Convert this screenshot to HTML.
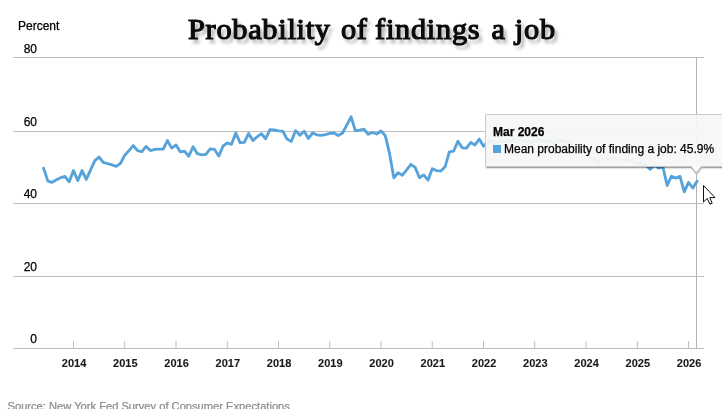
<!DOCTYPE html>
<html><head><meta charset="utf-8"><title>Probability of findings a job</title>
<style>
html,body{margin:0;padding:0;background:#fff;}
#c{position:relative;width:722px;height:409px;overflow:hidden;background:#fff;font-family:"Liberation Sans",Arial,sans-serif;color:#000;-webkit-text-stroke:0.25px currentColor;}
#c svg{position:absolute;left:0;top:0;}
.title{position:absolute;left:188.3px;top:11.5px;white-space:nowrap;font-family:"Liberation Serif",serif;font-weight:normal;font-size:29px;line-height:34px;color:#0b0b0b;-webkit-text-stroke:1.2px #0b0b0b;text-shadow:3px 3.5px 3.5px rgba(0,0,0,0.4);transform-origin:0 0;transform:scaleX(1.045);letter-spacing:0.7px;word-spacing:0.5px;}
.pct{position:absolute;left:18px;top:19px;font-size:12px;line-height:14px;}
.yl{position:absolute;left:14px;width:23px;text-align:right;font-size:12px;line-height:14px;}
.yr{position:absolute;top:357px;width:40px;text-align:center;font-size:11px;line-height:13px;font-weight:bold;color:#1a1a1a;-webkit-text-stroke:0.1px currentColor;}
.src{position:absolute;left:7.5px;top:399px;font-size:11.15px;line-height:14px;color:#8e8e8e;white-space:nowrap;}
.tip{position:absolute;left:485px;top:114px;width:250px;height:53px;box-sizing:border-box;border:1px solid #c9c9c9;border-radius:1px;background:rgba(247,247,247,0.94);box-shadow:1px 1px 0 rgba(0,0,0,0.28),1px 2px 1px rgba(0,0,0,0.12);}
.tip .h{position:absolute;left:7px;top:9.5px;font-size:12px;line-height:14px;font-weight:bold;white-space:nowrap;}
.tip .sq{position:absolute;left:7px;top:29.7px;width:8.2px;height:8.2px;background:#50a2e0;}
.tip .t{position:absolute;left:18px;top:27px;font-size:12px;line-height:14px;white-space:nowrap;}
</style></head><body>
<div id="c">
<svg width="722" height="409" viewBox="0 0 722 409">
<line x1="13" x2="704" y1="57.5" y2="57.5" stroke="#bebebe" stroke-width="1"/><line x1="13" x2="704" y1="131.5" y2="131.5" stroke="#bebebe" stroke-width="1"/><line x1="13" x2="704" y1="203.5" y2="203.5" stroke="#bebebe" stroke-width="1"/><line x1="13" x2="704" y1="276.5" y2="276.5" stroke="#bebebe" stroke-width="1"/><line x1="13" x2="704" y1="348.5" y2="348.5" stroke="#bebebe" stroke-width="1"/>
<line x1="73.50" x2="73.50" y1="341" y2="348.5" stroke="#bebebe" stroke-width="1"/><line x1="124.75" x2="124.75" y1="341" y2="348.5" stroke="#bebebe" stroke-width="1"/><line x1="176.00" x2="176.00" y1="341" y2="348.5" stroke="#bebebe" stroke-width="1"/><line x1="227.25" x2="227.25" y1="341" y2="348.5" stroke="#bebebe" stroke-width="1"/><line x1="278.50" x2="278.50" y1="341" y2="348.5" stroke="#bebebe" stroke-width="1"/><line x1="329.75" x2="329.75" y1="341" y2="348.5" stroke="#bebebe" stroke-width="1"/><line x1="381.00" x2="381.00" y1="341" y2="348.5" stroke="#bebebe" stroke-width="1"/><line x1="432.25" x2="432.25" y1="341" y2="348.5" stroke="#bebebe" stroke-width="1"/><line x1="483.50" x2="483.50" y1="341" y2="348.5" stroke="#bebebe" stroke-width="1"/><line x1="534.75" x2="534.75" y1="341" y2="348.5" stroke="#bebebe" stroke-width="1"/><line x1="586.00" x2="586.00" y1="341" y2="348.5" stroke="#bebebe" stroke-width="1"/><line x1="637.25" x2="637.25" y1="341" y2="348.5" stroke="#bebebe" stroke-width="1"/><line x1="688.50" x2="688.50" y1="341" y2="348.5" stroke="#bebebe" stroke-width="1"/>
<line x1="696.5" x2="696.5" y1="57" y2="349" stroke="#b4b4b4" stroke-width="1"/>
<polyline fill="none" stroke="#56a3db" stroke-width="2.85" stroke-linejoin="round" stroke-linecap="round" points="43.60,168.10 47.87,181.10 52.14,182.40 56.41,179.70 60.68,177.70 64.95,176.40 69.23,181.80 73.50,170.60 77.77,180.50 82.04,170.60 86.31,179.30 90.58,169.90 94.85,160.60 99.12,157.10 103.39,162.50 107.66,163.70 111.94,164.90 116.21,166.40 120.48,163.40 124.75,155.20 129.02,150.60 133.29,145.60 137.56,150.60 141.83,151.60 146.10,146.40 150.38,150.60 154.65,149.30 158.92,149.10 163.19,149.10 167.46,140.60 171.73,148.10 176.00,144.90 180.27,151.80 184.54,151.20 188.81,156.20 193.08,146.80 197.36,153.70 201.63,154.90 205.90,154.30 210.17,148.90 214.44,149.30 218.71,156.10 222.98,146.20 227.25,143.00 231.52,144.30 235.79,133.10 240.07,142.70 244.34,142.40 248.61,133.40 252.88,140.60 257.15,136.80 261.42,133.70 265.69,138.70 269.96,129.70 274.23,130.00 278.50,130.90 282.78,131.20 287.05,139.10 291.32,141.40 295.59,130.60 299.86,135.30 304.13,131.20 308.40,138.40 312.67,133.00 316.94,134.90 321.22,135.30 325.49,134.70 329.76,133.40 334.03,133.00 338.30,135.50 342.57,133.00 346.84,124.90 351.11,116.80 355.38,130.80 359.65,130.20 363.93,129.20 368.20,134.20 372.47,132.50 376.74,134.00 381.01,131.00 385.28,135.60 389.55,153.70 393.82,177.70 398.09,172.70 402.36,175.20 406.63,169.90 410.91,164.30 415.18,167.40 419.45,177.70 423.72,174.90 427.99,180.20 432.26,168.70 436.53,170.60 440.80,171.00 445.07,166.80 449.35,151.80 453.62,151.20 457.89,141.20 462.16,147.80 466.43,148.10 470.70,142.50 474.97,144.90 479.24,139.10 483.51,146.20 487.78,142.00 492.06,141.00 496.33,143.00 500.60,140.00 504.87,142.00 509.14,141.00 513.41,139.50 517.68,142.00 521.95,140.00 526.22,141.50 530.49,143.00 534.76,140.50 539.04,139.50 543.31,141.00 547.58,140.00 551.85,142.00 556.12,143.50 560.39,140.00 564.66,141.00 568.93,143.00 573.20,145.00 577.48,147.00 581.75,150.00 586.02,153.00 590.29,157.00 594.56,160.00 598.83,162.00 603.10,160.00 607.37,159.00 611.64,157.00 615.91,158.00 620.19,160.00 624.46,159.00 628.73,161.00 633.00,160.00 637.27,164.00 641.54,163.00 645.81,165.00 650.08,169.30 654.35,165.00 658.62,168.10 662.89,166.80 667.17,185.50 671.44,176.20 675.71,178.10 679.98,176.40 684.25,191.80 688.52,182.40 692.79,188.00 697.06,181.30"/>
</svg>
<div class="title" id="title">Probability <span style="position:relative;left:1.3px">of</span> findings <span style="position:relative;left:2.3px">a</span> <span style="position:relative;left:2.6px">job</span></div>
<div class="pct">Percent</div>
<div class="yl" style="top:42px">80</div><div class="yl" style="top:114.5px">60</div><div class="yl" style="top:186.7px">40</div><div class="yl" style="top:260px">20</div><div class="yl" style="top:332px">0</div>
<div class="yr" style="left:54.10px">2014</div><div class="yr" style="left:105.35px">2015</div><div class="yr" style="left:156.60px">2016</div><div class="yr" style="left:207.85px">2017</div><div class="yr" style="left:259.10px">2018</div><div class="yr" style="left:310.35px">2019</div><div class="yr" style="left:361.60px">2020</div><div class="yr" style="left:412.85px">2021</div><div class="yr" style="left:464.10px">2022</div><div class="yr" style="left:515.35px">2023</div><div class="yr" style="left:566.60px">2024</div><div class="yr" style="left:617.85px">2025</div><div class="yr" style="left:669.10px">2026</div>
<div class="src">Source: New York Fed Survey of Consumer Expectations</div>
<div class="tip"><div class="h">Mar 2026</div><div class="sq"></div><div class="t">Mean probability of finding a job: 45.9%</div></div>
<svg width="722" height="409" viewBox="0 0 722 409" style="pointer-events:none">
<path d="M690.5 165.5 L696.2 173.5 L702 165.5 Z" fill="#fafafa" stroke="none"/>
<path d="M691.5 167.5 L697.2 174.5 L703 167.5" fill="none" stroke="#cfcfcf" stroke-width="1"/>
<path d="M690.5 166.5 L696.2 173.5 L702 166.5" fill="none" stroke="#b5b5b5" stroke-width="1.2"/>
<path d="M703.5 185.5 L703.5 202 L707.3 198.4 L709.8 204.2 L712.2 203.2 L709.8 197.6 L715 197.6 Z" fill="#fff" stroke="#111" stroke-width="1" stroke-linejoin="miter"/>
</svg>
</div>
</body></html>
